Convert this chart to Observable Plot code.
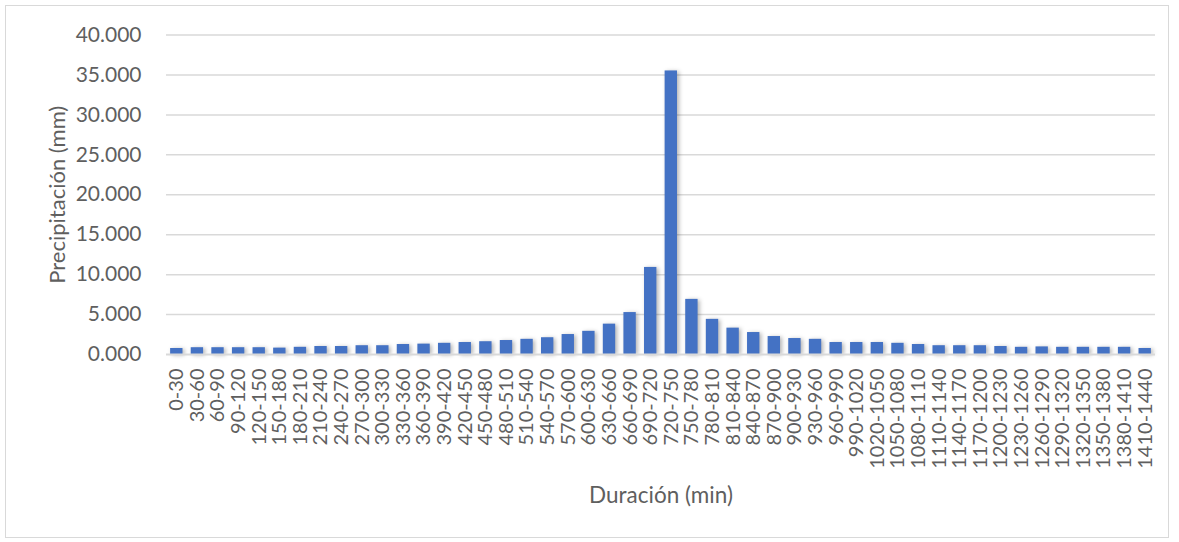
<!DOCTYPE html>
<html>
<head>
<meta charset="utf-8">
<script src="https://cdn.jsdelivr.net/npm/d3@7"></script>
<script src="https://cdn.jsdelivr.net/npm/@observablehq/plot@0.6"></script>
<style>
  html, body { margin: 0; padding: 0; background: #fff; }
  #wrap { position: relative; width: 1179px; height: 542px; }
  #frame { position: absolute; left: 5px; top: 5px; width: 1164px; height: 533px;
           border: 1.5px solid #d9d9d9; box-sizing: border-box; pointer-events: none; }
  #chart { position: absolute; left: 0; top: 0; }
</style>
</head>
<body>
<div id="wrap"><div id="chart"></div><div id="frame"></div></div>
<script>
// Duration intervals (minutes)
const intervals = [
  "0-30","30-60","60-90","90-120","120-150","150-180","180-210","210-240",
  "240-270","270-300","300-330","330-360","360-390","390-420","420-450","450-480",
  "480-510","510-540","540-570","570-600","600-630","630-660","660-690","690-720",
  "720-750","750-780","780-810","810-840","840-870","870-900","900-930","930-960",
  "960-990","990-1020","1020-1050","1050-1080","1080-1110","1110-1140","1140-1170","1170-1200",
  "1200-1230","1230-1260","1260-1290","1290-1320","1320-1350","1350-1380","1380-1410","1410-1440"
];

// Precipitation per interval (mm)
const precipitation = [
  0.75, 0.85, 0.85, 0.85, 0.85, 0.80, 0.90, 1.00,
  1.00, 1.10, 1.10, 1.25, 1.30, 1.40, 1.50, 1.60,
  1.75, 1.90, 2.10, 2.50, 2.90, 3.80, 5.25, 10.90,
  35.50, 6.90, 4.40, 3.30, 2.75, 2.25, 2.00, 1.90,
  1.50, 1.50, 1.50, 1.40, 1.25, 1.10, 1.10, 1.10,
  1.00, 0.90, 0.95, 0.90, 0.90, 0.90, 0.90, 0.75
];

// Y axis ticks
const yTicks = [0, 5, 10, 15, 20, 25, 30, 35, 40];

const xTitle = "Duración (min)";
const yTitle = "Precipitación (mm)";

const data = intervals.map((d, i) => ({interval: d, value: precipitation[i]}));

const textColor = "#5f5f5f";
const gridColor = "#d9d9d9";
const barColor = "#4472c4";
const font = "Lato, 'Open Sans', sans-serif";

const chart = Plot.plot({
  width: 1179,
  height: 542,
  marginLeft: 166,
  marginRight: 24,
  marginTop: 34.5,
  marginBottom: 188,
  style: {fontFamily: font, fontSize: "20px", color: textColor, background: "transparent"},
  x: {domain: intervals, paddingInner: 0.4, paddingOuter: 0.2, round: false, label: null},
  y: {domain: [0, 40], label: null},
  marks: [
    Plot.gridY(yTicks.filter(d => d > 0), {stroke: gridColor, strokeOpacity: 1, strokeWidth: 1.5}),
    Plot.barY(data, {x: "interval", y: "value", fill: barColor}),
    Plot.ruleY([0], {stroke: gridColor, strokeWidth: 2}),
    Plot.axisY({ticks: yTicks, tickFormat: d3.format(".3f"), tickSize: 0, tickPadding: 25, fontSize: "21px", label: null}),
    Plot.axisX({tickRotate: -90, tickSize: 0, tickPadding: 14, fontSize: "20px", label: null}),
    Plot.text([yTitle], {frameAnchor: "left", textAnchor: "middle", dx: -109, rotate: -90, fill: textColor, fontSize: "22px"}),
    Plot.text([xTitle], {frameAnchor: "bottom", textAnchor: "middle", dy: 148, fill: textColor, fontSize: "22.5px"})
  ]
});

// soft shadow beneath the bars
d3.select(chart).selectAll("g[aria-label='bar']").style("filter", "drop-shadow(2px 1px 2px rgba(0,0,0,0.3))");

document.getElementById("chart").appendChild(chart);
</script>
</body>
</html>
